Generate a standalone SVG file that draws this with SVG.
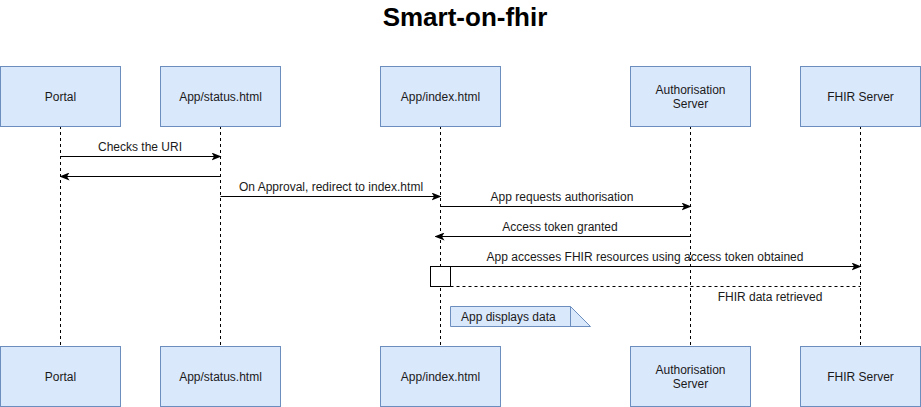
<svg xmlns="http://www.w3.org/2000/svg" width="921" height="407" viewBox="0 0 921 407">
<defs>
<style>
.box{fill:#dae8fc;stroke:#6c8ebf;stroke-width:1}
.t{font-family:"Liberation Sans",Arial,sans-serif;font-size:12px;fill:#1a1a1a;text-anchor:middle}
.life{stroke:#000;stroke-width:1;stroke-dasharray:3 3;fill:none}
.msg{stroke:#000;stroke-width:1;fill:none}
.title{font-family:"Liberation Sans",Arial,sans-serif;font-size:26px;font-weight:bold;fill:#000;text-anchor:middle}
</style>
<marker id="ah" viewBox="0 0 10 8" refX="9" refY="4" markerWidth="10" markerHeight="8" markerUnits="userSpaceOnUse" orient="auto">
<path d="M0,0 L10,4 L0,8 L2.5,4 z" fill="#000"/>
</marker>
</defs>
<rect width="921" height="407" fill="#fff"/>
<text class="title" x="465" y="26">Smart-on-fhir</text>

<g id="lifelines">
<line class="life" x1="60.5" y1="126" x2="60.5" y2="346"/>
<line class="life" x1="220.5" y1="126" x2="220.5" y2="346"/>
<line class="life" x1="440.5" y1="126" x2="440.5" y2="346"/>
<line class="life" x1="690.5" y1="126" x2="690.5" y2="346"/>
<line class="life" x1="860.5" y1="126" x2="860.5" y2="346"/>
</g>

<g id="portal-top"><rect class="box" x="0.5" y="66.5" width="120" height="60"/><text class="t" x="60.5" y="100.5">Portal</text></g>
<g id="status-top"><rect class="box" x="160.5" y="66.5" width="120" height="60"/><text class="t" x="220.5" y="100.5">App/status.html</text></g>
<g id="index-top"><rect class="box" x="380.5" y="66.5" width="120" height="60"/><text class="t" x="440.5" y="100.5">App/index.html</text></g>
<g id="auth-top"><rect class="box" x="630.5" y="66.5" width="120" height="60"/><text class="t" x="690.5" y="93.5">Authorisation</text><text class="t" x="690.5" y="107.5">Server</text></g>
<g id="fhir-top"><rect class="box" x="800.5" y="66.5" width="120" height="60"/><text class="t" x="860.5" y="100.5">FHIR Server</text></g>

<g id="portal-bottom"><rect class="box" x="0.5" y="346.5" width="120" height="60"/><text class="t" x="60.5" y="380.5">Portal</text></g>
<g id="status-bottom"><rect class="box" x="160.5" y="346.5" width="120" height="60"/><text class="t" x="220.5" y="380.5">App/status.html</text></g>
<g id="index-bottom"><rect class="box" x="380.5" y="346.5" width="120" height="60"/><text class="t" x="440.5" y="380.5">App/index.html</text></g>
<g id="auth-bottom"><rect class="box" x="630.5" y="346.5" width="120" height="60"/><text class="t" x="690.5" y="373.5">Authorisation</text><text class="t" x="690.5" y="387.5">Server</text></g>
<g id="fhir-bottom"><rect class="box" x="800.5" y="346.5" width="120" height="60"/><text class="t" x="860.5" y="380.5">FHIR Server</text></g>

<g id="activation"><rect x="430.5" y="266.5" width="20" height="20" fill="#fff" stroke="#000"/></g>

<g id="connectors">
<line class="msg" x1="60.5" y1="156.5" x2="220.5" y2="156.5" marker-end="url(#ah)"/>
<text class="t" x="140" y="151">Checks the URI</text>
<line class="msg" x1="220.5" y1="176.5" x2="60.5" y2="176.5" marker-end="url(#ah)"/>
<line class="msg" x1="220.5" y1="196.5" x2="440.5" y2="196.5" marker-end="url(#ah)"/>
<text class="t" x="331" y="191">On Approval, redirect to index.html</text>
<line class="msg" x1="440.5" y1="206.5" x2="690.5" y2="206.5" marker-end="url(#ah)"/>
<text class="t" x="562" y="201">App requests authorisation</text>
<line class="msg" x1="690.5" y1="236.5" x2="435.5" y2="236.5" marker-end="url(#ah)"/>
<text class="t" x="560" y="231">Access token granted</text>
<line class="msg" x1="450.5" y1="266.5" x2="860.5" y2="266.5" marker-end="url(#ah)"/>
<text class="t" x="645" y="261">App accesses FHIR resources using access token obtained</text>
<line class="life" x1="450.5" y1="286.5" x2="860.5" y2="286.5"/>
<text class="t" x="770" y="301">FHIR data retrieved</text>
</g>

<g id="note">
<path d="M450.5,306.5 H570.5 L590.5,326.5 H450.5 Z" class="box"/>
<line x1="570.5" y1="306.5" x2="570.5" y2="326.5" stroke="#6c8ebf"/>
<text class="t" x="461" y="320.5" style="text-anchor:start">App displays data</text>
</g>
</svg>
